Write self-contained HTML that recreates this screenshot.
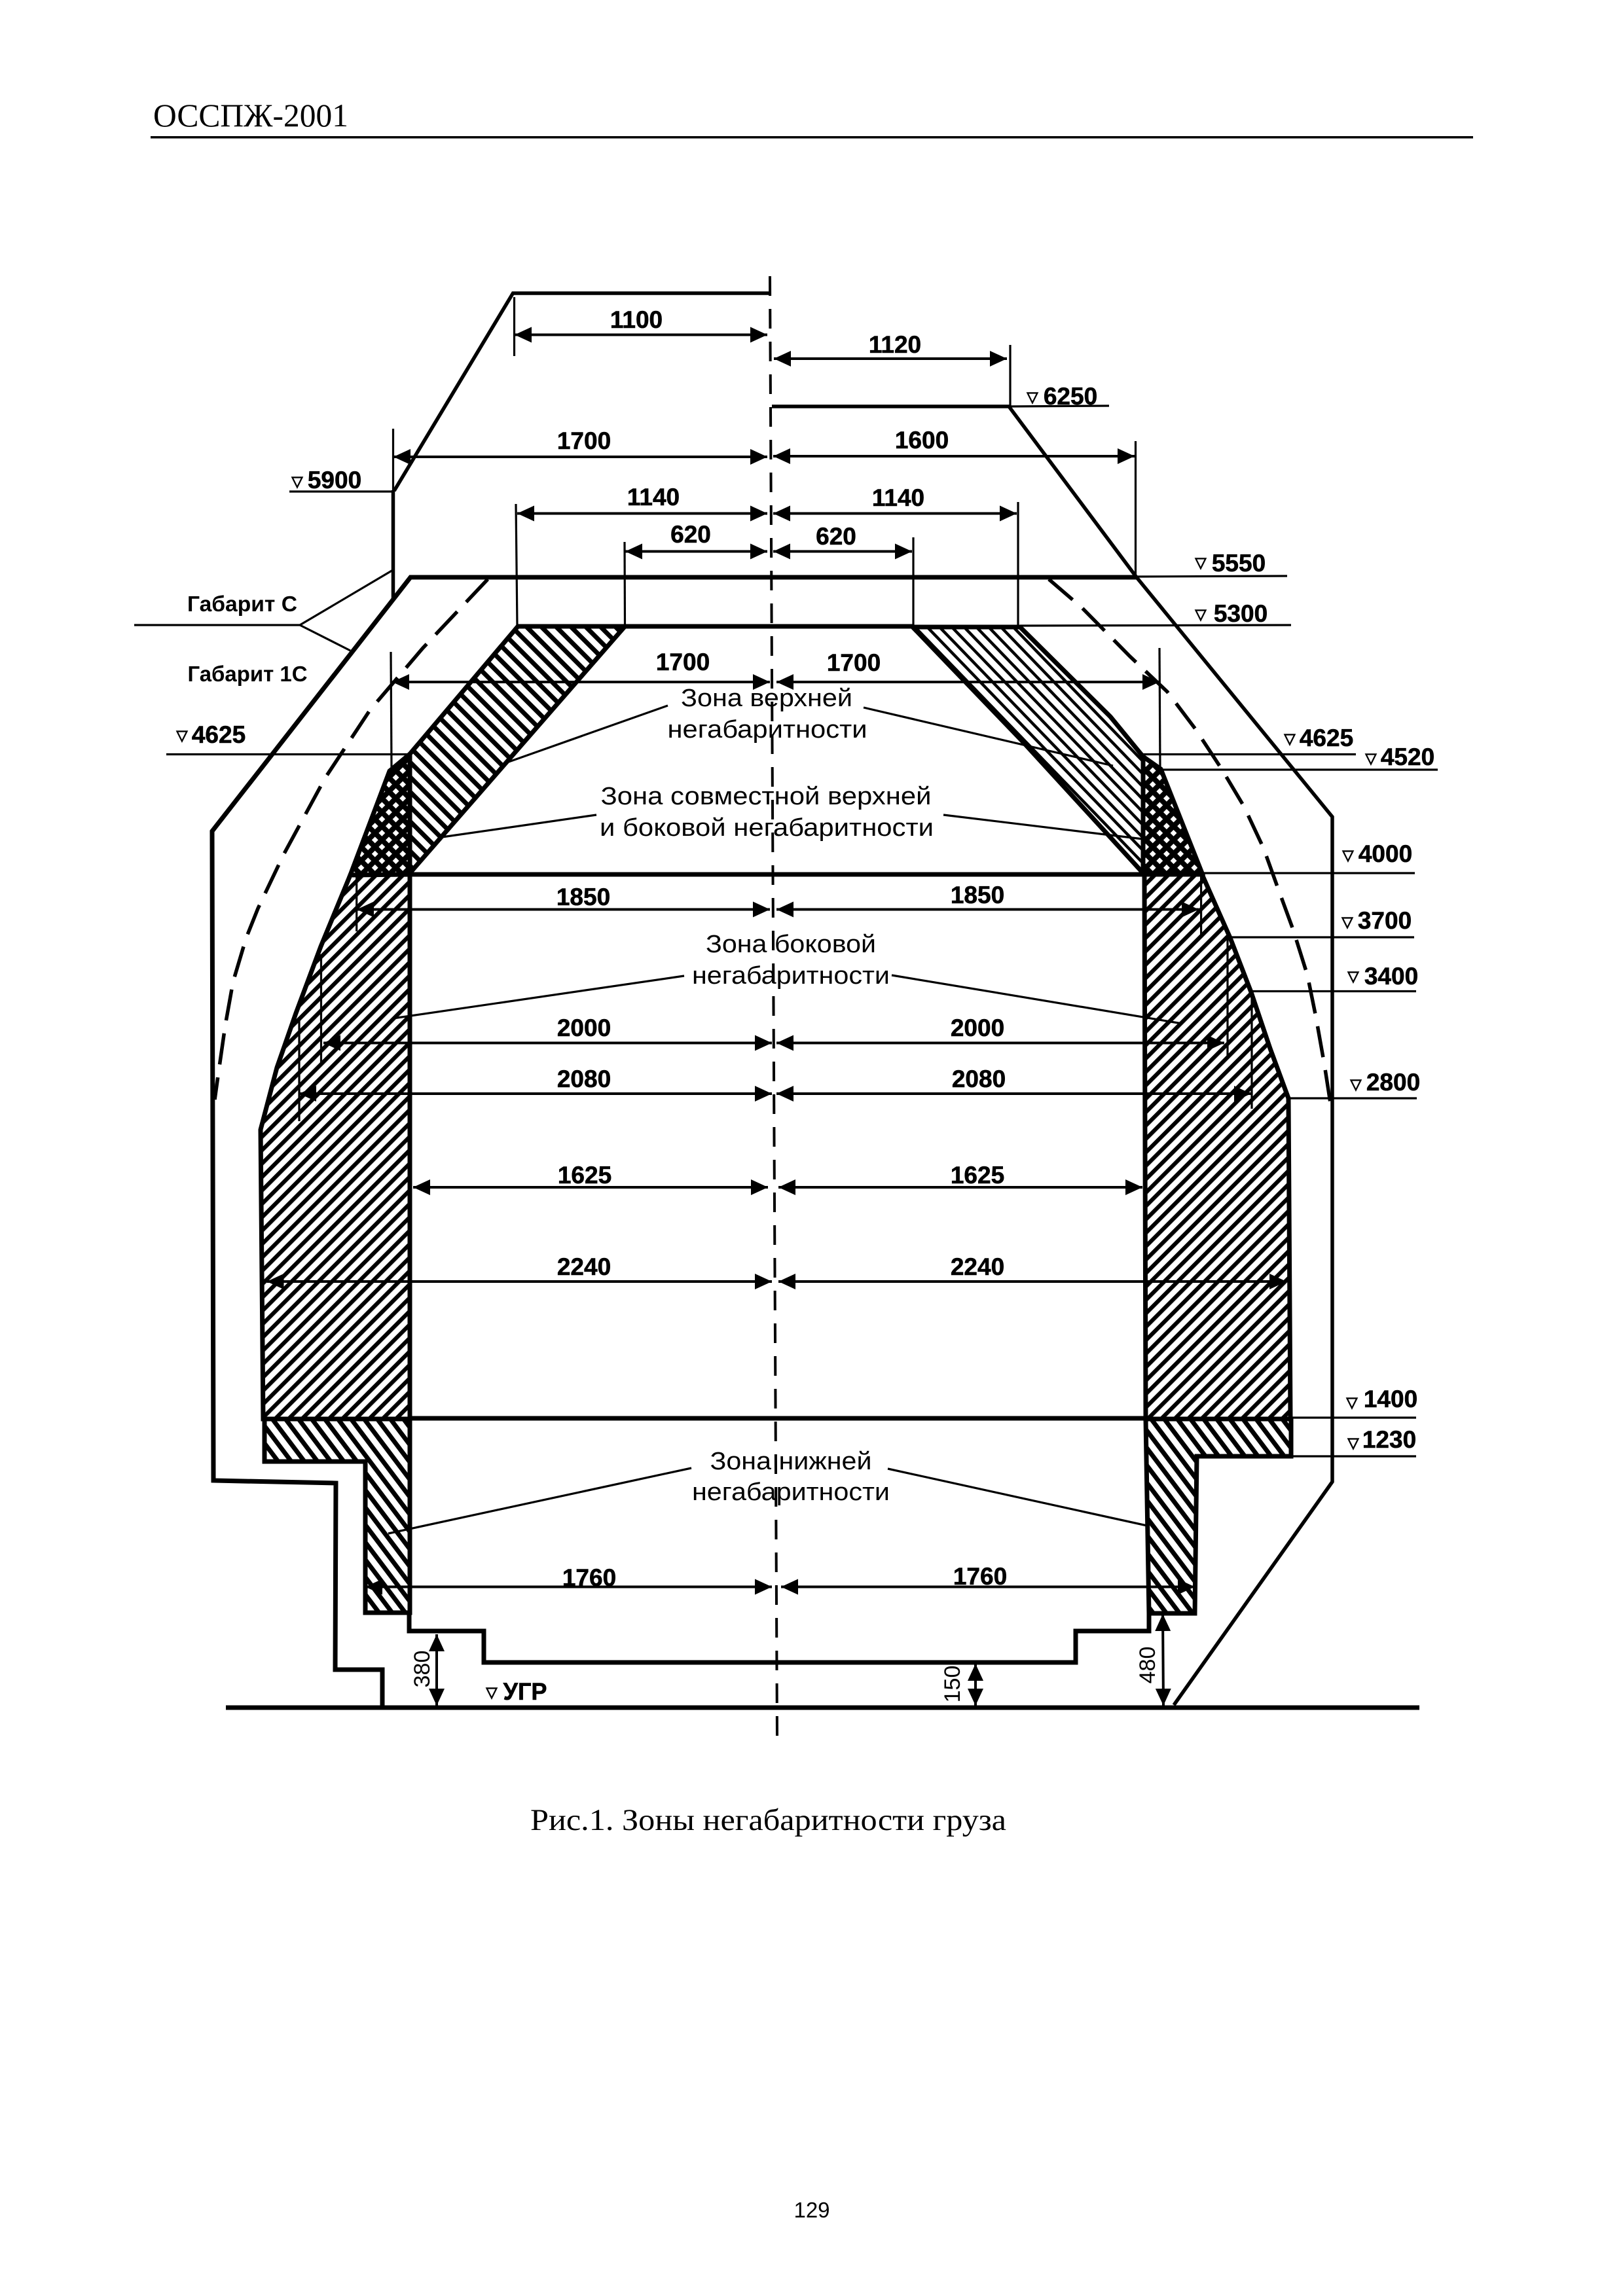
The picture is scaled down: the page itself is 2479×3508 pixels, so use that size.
<!DOCTYPE html>
<html lang="ru"><head><meta charset="utf-8"><title>Зоны негабаритности груза</title>
<style>
html,body{margin:0;padding:0;background:#fff}
svg{display:block}
.d{font:bold 37px "Liberation Sans",sans-serif;text-anchor:middle;fill:#000;stroke:#000;stroke-width:.6}
.g{font:bold 33px "Liberation Sans",sans-serif;text-anchor:middle;fill:#000}
.z{font:38px "Liberation Sans",sans-serif;text-anchor:middle;fill:#000}
.r{font:34px "Liberation Sans",sans-serif;text-anchor:middle;fill:#000}
.v{font:bold 22px "DejaVu Sans",sans-serif;text-anchor:middle;fill:#000;stroke:#000;stroke-width:1.2}
.a{stroke:#000;stroke-width:4;fill:none;marker-start:url(#ar);marker-end:url(#ar)}
.t3{stroke:#000;stroke-width:3.2;fill:none}
.t5{stroke:#000;stroke-width:5.5;fill:none}
.t6{stroke:#000;stroke-width:7;fill:none}
.h{stroke:#000;stroke-width:7;stroke-linejoin:miter}
</style></head><body>
<svg xmlns="http://www.w3.org/2000/svg" width="2479" height="3508" viewBox="0 0 2479 3508">
<defs>
<marker id="ar" markerUnits="userSpaceOnUse" markerWidth="26" markerHeight="24" viewBox="0 0 26 24" refX="26" refY="12" orient="auto-start-reverse"><polygon points="0,0 26,12 0,24" fill="#000"/></marker>
<pattern id="bs" width="16" height="16" patternUnits="userSpaceOnUse" patternTransform="rotate(-45)"><rect width="16" height="16" fill="#fff"/><rect width="7" height="16" fill="#000"/></pattern>
<pattern id="bsr" width="13.5" height="13.5" patternUnits="userSpaceOnUse" patternTransform="rotate(-44)"><rect width="13.5" height="13.5" fill="#fff"/><rect width="4.5" height="13.5" fill="#000"/></pattern>
<pattern id="fs" width="14.5" height="14.5" patternUnits="userSpaceOnUse" patternTransform="rotate(45)"><rect width="14.5" height="14.5" fill="#fff"/><rect width="6.2" height="14.5" fill="#000"/></pattern>
<pattern id="lo" width="16" height="16" patternUnits="userSpaceOnUse" patternTransform="rotate(-37)"><rect width="16" height="16" fill="#fff"/><rect width="7" height="16" fill="#000"/></pattern>
<pattern id="xx" width="15" height="15" patternUnits="userSpaceOnUse" patternTransform="rotate(45)"><rect width="15" height="15" fill="#000"/><rect x="4" y="4" width="7" height="7" fill="#fff"/></pattern>
</defs>
<rect width="2479" height="3508" fill="#fff"/>

<!-- header -->
<text x="234" y="193" font-family="'Liberation Serif','Noto Serif CJK SC',serif" font-size="50" textLength="298" lengthAdjust="spacingAndGlyphs">ОССПЖ-2001</text>
<rect x="230" y="208" width="2020" height="3.5" fill="#000"/>

<!-- centre line -->
<line x1="1176" y1="422" x2="1187" y2="2654" stroke="#000" stroke-width="4" stroke-dasharray="30 20"/>

<!-- hatched zones -->
<polygon class="h" fill="url(#bs)" points="791,957 954.5,957 626,1334 626,1152"/>
<polygon class="h" fill="url(#xx)" points="626,1152 595,1178 535,1337 626,1336"/>
<polygon class="h" fill="url(#fs)" points="535,1337 490,1446 452,1548 423,1631 398,1726 402,2168 626,2168 626,1336"/>
<polygon class="h" fill="url(#lo)" points="404,2168 626,2168 626,2464 558,2464 558,2233 404,2233"/>
<polygon class="h" fill="url(#bsr)" points="1394,958 1558,958 1696,1095 1746,1156 1746,1334 1562,1133"/>
<polygon class="h" fill="url(#xx)" points="1746,1156 1773,1175 1836,1334 1746,1334"/>
<polygon class="h" fill="url(#fs)" points="1748,1336 1836,1336 1879,1433 1911,1516 1940,1602 1968,1678 1971,2168 1750,2168"/>
<polygon class="h" fill="url(#lo)" points="1750,2168 1972,2168 1972,2225 1828,2225 1825,2465 1755,2465"/>

<!-- outer gauge C -->
<polyline class="t5" points="1176,448 783.5,448 602,750"/>
<line class="t5" x1="600.5" y1="749" x2="600.5" y2="917"/>
<polyline class="t6" points="1736,882 627,882 324,1270 326,2262 513,2266 512,2551 584,2551 584,2609"/>
<polyline class="t5" points="1179,621 1541,621 1736,882 2035,1248 2035,2264 1793,2605"/>
<line x1="345" y1="2609" x2="2168" y2="2609" stroke="#000" stroke-width="7"/>

<!-- dashed gauge 1C -->
<polyline class="t5" stroke-dasharray="48 20" points="745,885 646,990 565,1085 497,1188 433,1306 394,1388 376,1433 356,1500 344,1567 334,1637 328,1680"/>
<polyline class="t5" stroke-dasharray="48 20" points="1602,885 1652,928 1726,1003 1783,1057 1826,1114 1866,1175 1900,1232 1930,1296 1953,1360 1975,1420 1997,1490 2010,1554 2023,1627 2032,1685"/>

<!-- thick horizontals -->
<line class="t6" x1="954" y1="957" x2="1394" y2="957"/>
<line class="t6" x1="626" y1="1336" x2="1746" y2="1336"/>
<line class="t6" x1="626" y1="2167" x2="1750" y2="2167"/>
<polyline class="t6" points="625,2464 625,2492 739,2492 739,2540 1643,2540 1643,2492 1755,2492 1755,2463"/>

<!-- thin level lines -->
<g class="t3">
<line x1="442" y1="751" x2="602" y2="751"/>
<line x1="1541" y1="621" x2="1694" y2="620"/>
<line x1="1736" y1="881" x2="1966" y2="880"/>
<line x1="1558" y1="956" x2="1972" y2="955"/>
<line x1="254" y1="1152.5" x2="624" y2="1152.5"/>
<line x1="1746" y1="1152.5" x2="2071" y2="1152.5"/>
<line x1="1773" y1="1176" x2="2196" y2="1176"/>
<line x1="1836" y1="1334" x2="2161" y2="1334"/>
<line x1="1879" y1="1432" x2="2160" y2="1432"/>
<line x1="1911" y1="1514.5" x2="2163" y2="1514.5"/>
<line x1="1968" y1="1678" x2="2164" y2="1678"/>
<line x1="1972" y1="2166" x2="2163" y2="2166"/>
<line x1="1972" y1="2225" x2="2163" y2="2225"/>
<!-- extension lines -->
<line x1="785.5" y1="454" x2="785.5" y2="544"/>
<line x1="600.5" y1="655" x2="600.5" y2="751"/>
<line x1="788" y1="770" x2="790" y2="957"/>
<line x1="954" y1="828" x2="954.5" y2="957"/>
<line x1="597" y1="996" x2="598" y2="1172"/>
<line x1="1543" y1="527" x2="1543" y2="622"/>
<line x1="1734.5" y1="674" x2="1734.5" y2="881"/>
<line x1="1555" y1="767" x2="1555" y2="957"/>
<line x1="1395" y1="821" x2="1395" y2="957"/>
<line x1="1771" y1="990" x2="1772" y2="1175"/>
<line x1="544.7" y1="1337" x2="544.7" y2="1423"/>
<line x1="1834.6" y1="1338" x2="1834.6" y2="1433"/>
<line x1="490.5" y1="1458" x2="490.5" y2="1624"/>
<line x1="1875" y1="1433" x2="1875" y2="1618"/>
<line x1="457" y1="1554" x2="457" y2="1713"/>
<line x1="1912" y1="1516" x2="1912" y2="1694"/>
<!-- gabarit leaders -->
<line x1="205" y1="955" x2="458" y2="955"/>
<line x1="458" y1="955" x2="600" y2="871"/>
<line x1="458" y1="955" x2="535" y2="994"/>
<!-- zone leaders -->
<line x1="1020" y1="1078" x2="777" y2="1164"/>
<line x1="1319" y1="1081" x2="1700" y2="1170"/>
<line x1="911" y1="1245" x2="675" y2="1279"/>
<line x1="1441" y1="1245" x2="1746" y2="1282"/>
<line x1="1045" y1="1491" x2="600" y2="1556"/>
<line x1="1362" y1="1490" x2="1806" y2="1564"/>
<line x1="1056" y1="2243" x2="593" y2="2343"/>
<line x1="1356" y1="2244" x2="1752" y2="2331"/>
</g>

<!-- dimension arrows -->
<line class="a" x1="786" y1="511.5" x2="1172" y2="511.5"/>
<line class="a" x1="1182" y1="548" x2="1538" y2="548"/>
<line class="a" x1="601" y1="698" x2="1172" y2="698"/>
<line class="a" x1="1181" y1="697" x2="1733" y2="697"/>
<line class="a" x1="790" y1="784.5" x2="1172" y2="784.5"/>
<line class="a" x1="1181" y1="784.5" x2="1553" y2="784.5"/>
<line class="a" x1="955" y1="842.5" x2="1172" y2="842.5"/>
<line class="a" x1="1181" y1="842.5" x2="1393" y2="842.5"/>
<line class="a" x1="599" y1="1042" x2="1176" y2="1042"/>
<line class="a" x1="1186" y1="1042" x2="1771" y2="1042"/>
<line class="a" x1="545" y1="1389.5" x2="1176" y2="1389.5"/>
<line class="a" x1="1186" y1="1389.5" x2="1831" y2="1389.5"/>
<line class="a" x1="494" y1="1593.5" x2="1179" y2="1593.5"/>
<line class="a" x1="1186" y1="1593.5" x2="1870" y2="1593.5"/>
<line class="a" x1="457" y1="1671" x2="1179" y2="1671"/>
<line class="a" x1="1186" y1="1671" x2="1911" y2="1671"/>
<line class="a" x1="631" y1="1814" x2="1173" y2="1814"/>
<line class="a" x1="1189" y1="1814" x2="1745" y2="1814"/>
<line class="a" x1="407.5" y1="1958" x2="1179" y2="1958"/>
<line class="a" x1="1189" y1="1958" x2="1965" y2="1958"/>
<line class="a" x1="558" y1="2424.5" x2="1179" y2="2424.5"/>
<line class="a" x1="1193" y1="2424.5" x2="1825" y2="2424.5"/>
<line class="a" x1="667" y1="2497" x2="667" y2="2606"/>
<line class="a" x1="1490" y1="2542" x2="1490" y2="2606"/>
<line class="a" x1="1776" y1="2466" x2="1777" y2="2606"/>

<!-- dimension labels -->
<text class="d" x="972" y="501">1100</text>
<text class="d" x="1367" y="539">1120</text>
<text class="d" x="892" y="686">1700</text>
<text class="d" x="1408" y="685">1600</text>
<text class="d" x="998" y="772">1140</text>
<text class="d" x="1372" y="773">1140</text>
<text class="d" x="1055" y="829">620</text>
<text class="d" x="1277" y="832">620</text>
<text class="d" x="1043" y="1024">1700</text>
<text class="d" x="1304" y="1025">1700</text>
<text class="d" x="891" y="1383">1850</text>
<text class="d" x="1493" y="1380">1850</text>
<text class="d" x="892" y="1583">2000</text>
<text class="d" x="1493" y="1583">2000</text>
<text class="d" x="892" y="1661">2080</text>
<text class="d" x="1495" y="1661">2080</text>
<text class="d" x="893" y="1808">1625</text>
<text class="d" x="1493" y="1808">1625</text>
<text class="d" x="892" y="1948">2240</text>
<text class="d" x="1493" y="1948">2240</text>
<text class="d" x="900" y="2423">1760</text>
<text class="d" x="1497" y="2421">1760</text>

<!-- levels -->
<text class="v" x="454" y="743">▽</text><text class="d" x="511" y="746">5900</text>
<text class="v" x="1577" y="614">▽</text><text class="d" x="1635" y="618">6250</text>
<text class="v" x="1834" y="867">▽</text><text class="d" x="1892" y="873">5550</text>
<text class="v" x="1834" y="946">▽</text><text class="d" x="1895" y="950">5300</text>
<text class="v" x="278" y="1131">▽</text><text class="d" x="334" y="1135">4625</text>
<text class="v" x="1970" y="1136">▽</text><text class="d" x="2026" y="1140">4625</text>
<text class="v" x="2094" y="1166">▽</text><text class="d" x="2150" y="1169">4520</text>
<text class="v" x="2059" y="1314">▽</text><text class="d" x="2116" y="1317">4000</text>
<text class="v" x="2058" y="1416">▽</text><text class="d" x="2115" y="1419">3700</text>
<text class="v" x="2067" y="1499">▽</text><text class="d" x="2125" y="1504">3400</text>
<text class="v" x="2071" y="1664">▽</text><text class="d" x="2128" y="1666">2800</text>
<text class="v" x="2065" y="2150">▽</text><text class="d" x="2124" y="2150">1400</text>
<text class="v" x="2067" y="2212">▽</text><text class="d" x="2122" y="2212">1230</text>
<text class="v" x="751" y="2593">▽</text><text class="d" x="802" y="2597" textLength="67" lengthAdjust="spacingAndGlyphs">УГР</text>

<!-- rotated -->
<text class="r" transform="translate(656,2550) rotate(-90)">380</text>
<text class="r" transform="translate(1466,2573) rotate(-90)">150</text>
<text class="r" transform="translate(1764,2544) rotate(-90)">480</text>

<!-- gauge names -->
<text class="g" x="370" y="934" textLength="168" lengthAdjust="spacingAndGlyphs">Габарит С</text>
<text class="g" x="378" y="1041" textLength="183" lengthAdjust="spacingAndGlyphs">Габарит 1С</text>

<!-- zone labels -->
<text class="z" x="1171" y="1079" textLength="262" lengthAdjust="spacingAndGlyphs">Зона верхней</text>
<text class="z" x="1172" y="1127" textLength="305" lengthAdjust="spacingAndGlyphs">негабаритности</text>
<text class="z" x="1170" y="1229" textLength="505" lengthAdjust="spacingAndGlyphs">Зона совместной верхней</text>
<text class="z" x="1171" y="1277" textLength="510" lengthAdjust="spacingAndGlyphs">и боковой негабаритности</text>
<text class="z" x="1208" y="1455" textLength="260" lengthAdjust="spacingAndGlyphs">Зона боковой</text>
<text class="z" x="1208" y="1503" textLength="302" lengthAdjust="spacingAndGlyphs">негабаритности</text>
<text class="z" x="1208" y="2245" textLength="247" lengthAdjust="spacingAndGlyphs">Зона нижней</text>
<text class="z" x="1208" y="2292" textLength="302" lengthAdjust="spacingAndGlyphs">негабаритности</text>

<!-- caption -->
<text x="810" y="2796" font-family="'Liberation Serif','Noto Serif CJK SC',serif" font-size="47" textLength="727" lengthAdjust="spacingAndGlyphs">Рис.1. Зоны негабаритности груза</text>
<text x="1240" y="3388" font-family="'Liberation Sans',sans-serif" font-size="33" text-anchor="middle">129</text>
</svg>
</body></html>
